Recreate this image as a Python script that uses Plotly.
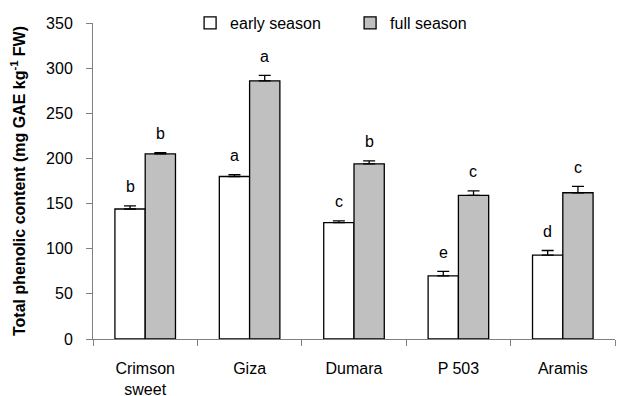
import plotly.graph_objects as go

categories = ["Crimson<br>sweet", "Giza", "Dumara", "P 503", "Aramis"]
early = [144, 180, 129, 70, 93]
early_err = [3.5, 2, 1.8, 5, 5]
full = [205, 286, 194, 159, 162]
full_err = [1.5, 6, 3.3, 5, 7]
early_letters = ["b", "a", "c", "e", "d"]
full_letters = ["b", "a", "b", "c", "c"]

font = "Liberation Sans, Arial, sans-serif"

fig = go.Figure()
fig.add_trace(go.Bar(
    name="early season", x=categories, y=early,
    marker=dict(color="white", line=dict(color="black", width=1.3)),
    error_y=dict(type="data", array=early_err, arrayminus=[0]*5, symmetric=False,
                 color="black", thickness=1.3, width=6),
))
fig.add_trace(go.Bar(
    name="full season", x=categories, y=full,
    marker=dict(color="#c0c0c0", line=dict(color="black", width=1.3)),
    error_y=dict(type="data", array=full_err, arrayminus=[0]*5, symmetric=False,
                 color="black", thickness=1.3, width=6),
))

for i, c in enumerate(categories):
    fig.add_annotation(x=c, y=early[i] + early_err[i], text=early_letters[i], xshift=-15,
                       yshift=19, showarrow=False, font=dict(family=font, size=16, color="black"))
    fig.add_annotation(x=c, y=full[i] + full_err[i], text=full_letters[i], xshift=15,
                       yshift=19, showarrow=False, font=dict(family=font, size=16, color="black"))

fig.update_layout(
    width=627, height=396,
    margin=dict(l=85, r=20, t=15, b=65, autoexpand=False),
    paper_bgcolor="white", plot_bgcolor="white",
    barmode="group", bargap=0.42, bargroupgap=0,
    font=dict(family=font, size=16, color="black"),
    showlegend=True,
    legend=dict(orientation="h", x=0.186, xanchor="left", y=1.0, yanchor="middle",
                font=dict(family=font, size=16), itemwidth=30, bgcolor="rgba(0,0,0,0)",
                traceorder="normal", entrywidth=115),
    xaxis=dict(showline=True, linecolor="#808080", linewidth=1, ticks="outside",
               tickson="boundaries", ticklen=6, tickcolor="#808080", showgrid=False,
               tickfont=dict(family=font, size=16), ticklabelstandoff=15, automargin=False),
    yaxis=dict(range=[0, 350], dtick=50, showline=True, linecolor="#808080", linewidth=1,
               ticks="outside", ticklen=6, tickcolor="#808080", showgrid=False, zeroline=False,
               tickfont=dict(family=font, size=16), ticklabelstandoff=10, automargin=False,
               title=dict(text="<b>Total phenolic content (mg GAE kg<sup>-1</sup> FW)</b>",
                          font=dict(family=font, size=16), standoff=16)),
)

fig.write_html("out.html")
